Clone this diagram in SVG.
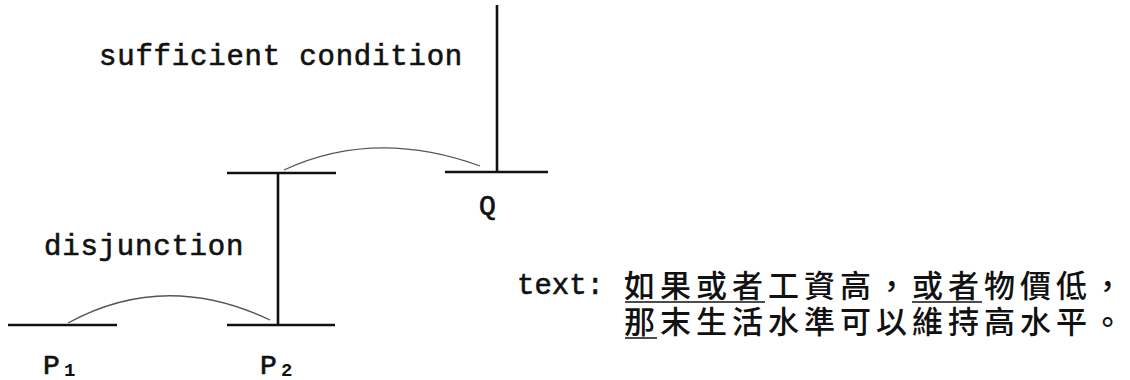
<svg xmlns="http://www.w3.org/2000/svg" width="1130" height="380" viewBox="0 0 1130 380">
<style>
.lbl{font-family:"Liberation Mono","DejaVu Sans Mono",monospace;font-size:29px;letter-spacing:0.8px;fill:#111;stroke:#111;stroke-width:0.6}
.sym{font-family:"Liberation Mono","DejaVu Sans Mono",monospace;font-size:28px;fill:#111;stroke:#111;stroke-width:0.7}
.sub{font-family:"Liberation Mono","DejaVu Sans Mono",monospace;font-size:19px;font-weight:bold;fill:#111}
.cjk{font-family:"Noto Sans CJK TC","Noto Sans CJK SC",sans-serif;font-size:31px;font-weight:500;letter-spacing:5px;fill:#111}
.bar{stroke:#111;stroke-width:2.6;fill:none}
.arc{stroke:#555;stroke-width:1.3;fill:none}
.ul{stroke:#111;stroke-width:1.5}
</style>
<g id="Q">
<line class="bar" x1="445" y1="172" x2="548" y2="172"/>
<line class="bar" x1="497" y1="5" x2="497" y2="172"/>
<text class="sym" x="479" y="214">Q</text>
</g>
<g id="P1P2">
<line class="bar" x1="227" y1="173" x2="336" y2="173"/>
</g>
<g id="P1">
<line class="bar" x1="8" y1="325" x2="117" y2="325"/>
<text class="sym" x="43" y="374">P</text>
<text class="sub" x="64" y="376">1</text>
</g>
<g id="P2">
<line class="bar" x1="227" y1="325" x2="335" y2="325"/>
<text class="sym" x="260" y="374">P</text>
<text class="sub" x="281" y="376">2</text>
</g>
<g id="connectors">
<line class="bar" x1="278" y1="173" x2="278" y2="325"/>
<path class="arc" d="M68,323 Q165,270 270,320"/>
<path class="arc" d="M284,170 Q375,128 480,166"/>
</g>
<g id="labels">
<text class="lbl" x="99" y="65">sufficient condition</text>
<text class="lbl" x="44" y="255">disjunction</text>
<text class="lbl" x="517" y="294" style="letter-spacing:0px">text:</text>
</g>
<g id="text">
<text class="cjk" x="624" y="297">如果或者工資高，或者物價低，</text>
<text class="cjk" x="624" y="333">那末生活水準可以維持高水平。</text>
<line class="ul" x1="625" y1="302" x2="765" y2="302"/>
<line class="ul" x1="912" y1="302" x2="982" y2="302"/>
<line class="ul" x1="625" y1="338" x2="657" y2="338"/>
</g>
</svg>
